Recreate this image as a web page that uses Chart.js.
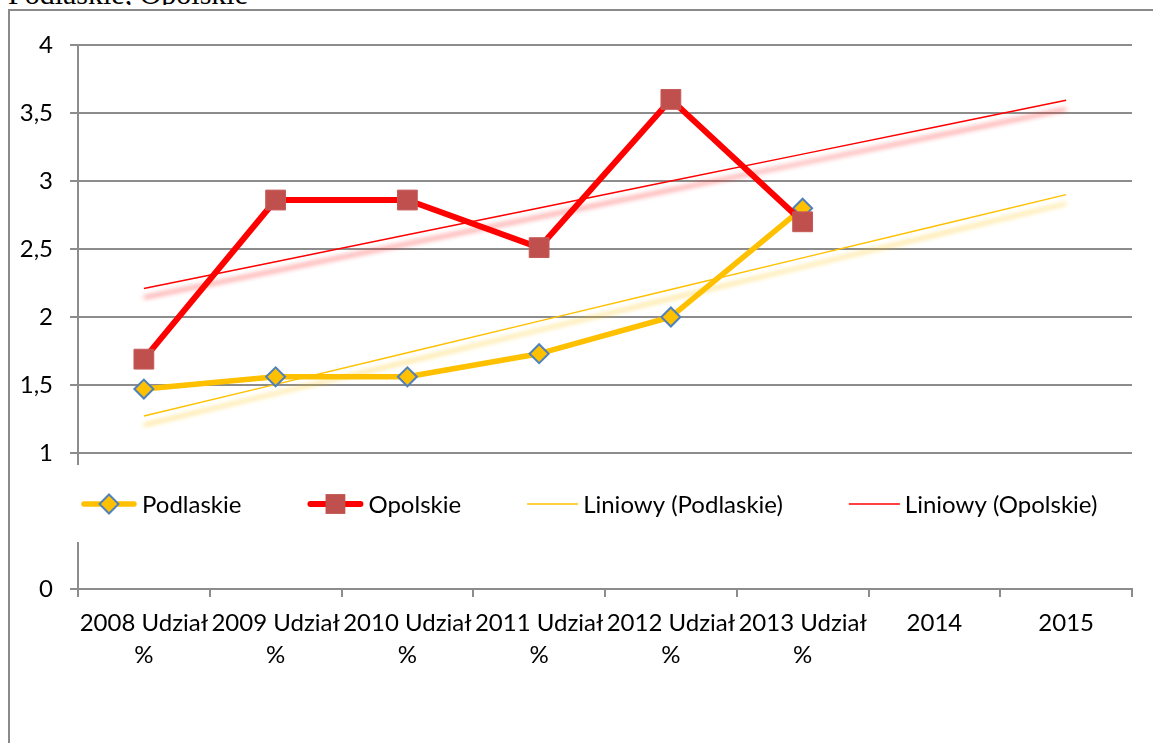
<!DOCTYPE html>
<html>
<head>
<meta charset="utf-8">
<script src="https://cdn.jsdelivr.net/npm/chart.js@4.4.1/dist/chart.umd.min.js"></script>
<style>
  html, body { margin: 0; padding: 0; background: #fff; width: 1153px; height: 743px; overflow: hidden; }
  #frame { position: absolute; left: 8px; top: 9px; width: 1300px; height: 900px;
           border-left: 2px solid #8a8a8a; border-top: 2px solid #8a8a8a; }
  #title { position: absolute; left: 0; top: 0; width: 420px; height: 5px; overflow: hidden; }
  #title span { position: absolute; left: 8px; top: -21px; font: 30px/30px "Liberation Serif", serif;
                white-space: nowrap; color: #000; }
  #upper { position: absolute; left: 0; top: 0; }
  #lower { position: absolute; left: 0; top: 530px; }
</style>
</head>
<body>
<div id="frame"></div>
<div id="title"><span>Podlaskie, Opolskie</span></div>
<canvas id="upper" width="1153" height="530"></canvas>
<canvas id="lower" width="1153" height="213"></canvas>
<script>
// Categories and series values
const categories = ['2008 Udział %', '2009 Udział %', '2010 Udział %', '2011 Udział %',
                    '2012 Udział %', '2013 Udział %', '2014', '2015'];
const podlaskie = [1.47, 1.56, 1.56, 1.73, 2.00, 2.80];
const opolskie  = [1.69, 2.86, 2.86, 2.51, 3.60, 2.70];
const upperTicks = [1, 1.5, 2, 2.5, 3, 3.5, 4];
const lowerTicks = [0];

const GRID = '#8c8c8c';
const FONT = { family: 'Lato', size: 24 };
Chart.defaults.font.family = 'Lato';
Chart.defaults.color = '#000';

// Least-squares linear trend over the observed points, projected across all categories
function linearTrend(values, n) {
  const m = values.length;
  const mx = (m + 1) / 2;
  const my = values.reduce((a, b) => a + b, 0) / m;
  let sxy = 0, sxx = 0;
  values.forEach((v, i) => { const dx = i + 1 - mx; sxy += dx * (v - my); sxx += dx * dx; });
  const b = sxy / sxx, a = my - b * mx;
  return Array.from({ length: n }, (_, i) => a + b * (i + 1));
}
const padTo = (v, n) => v.concat(Array(n - v.length).fill(null));
const wrapLabel = s => s.endsWith(' %') ? [s.slice(0, -2), '%'] : s;
const decimalComma = v => String(v).replace('.', ',');

// Soft drop shadow under the trend lines
const trendShadow = {
  id: 'trendShadow',
  beforeDatasetDraw(chart, args) {
    const ds = chart.data.datasets[args.index];
    if (!ds.shadowColor) return;
    const ctx = chart.ctx;
    ctx.save();
    ctx.shadowColor = ds.shadowColor;
    ctx.shadowBlur = 5;
    ctx.shadowOffsetX = 0;
    ctx.shadowOffsetY = 9;
  },
  afterDatasetDraw(chart, args) {
    if (chart.data.datasets[args.index].shadowColor) chart.ctx.restore();
  }
};

// Legend row between the two axis sections
const rowLegend = {
  id: 'rowLegend',
  afterDraw(chart) {
    const ctx = chart.ctx;
    const y = 504;
    let x = 81;
    ctx.save();
    ctx.font = '24px Lato';
    ctx.textBaseline = 'middle';
    chart.data.datasets.forEach(ds => {
      const thick = ds.borderWidth > 3;
      const w = thick ? 56 : 51;
      ctx.strokeStyle = ds.borderColor;
      ctx.lineWidth = ds.borderWidth;
      ctx.lineCap = thick ? 'round' : 'butt';
      ctx.beginPath();
      ctx.moveTo(x + (thick ? 3 : 0), y);
      ctx.lineTo(x + w - (thick ? 3 : 0), y);
      ctx.stroke();
      const cx = x + w / 2;
      if (ds.pointStyle === 'rectRot') {
        const r = ds.pointRadius;
        ctx.beginPath();
        ctx.moveTo(cx, y - r); ctx.lineTo(cx + r, y); ctx.lineTo(cx, y + r); ctx.lineTo(cx - r, y);
        ctx.closePath();
        ctx.fillStyle = ds.pointBackgroundColor; ctx.fill();
        ctx.lineWidth = ds.pointBorderWidth; ctx.strokeStyle = ds.pointBorderColor; ctx.stroke();
      } else if (ds.pointStyle === 'rect') {
        const s = ds.pointRadius * Math.SQRT1_2;
        ctx.fillStyle = ds.pointBackgroundColor;
        ctx.fillRect(cx - s, y - s, 2 * s, 2 * s);
      }
      ctx.fillStyle = '#000';
      ctx.fillText(ds.label, x + w + 5, y + 1);
      x += w + 5 + ctx.measureText(ds.label).width + 66;
    });
    ctx.restore();
  }
};

const n = categories.length;

new Chart(document.getElementById('upper'), {
  type: 'line',
  data: {
    labels: categories,
    datasets: [
      { label: 'Podlaskie', data: padTo(podlaskie, n), borderColor: '#FFC000', borderWidth: 5.5,
        borderJoinStyle: 'round', borderCapStyle: 'round',
        pointStyle: 'rectRot', pointRadius: 9.5, pointBackgroundColor: '#FFC000',
        pointBorderColor: '#4F81BD', pointBorderWidth: 2, order: 1 },
      { label: 'Opolskie', data: padTo(opolskie, n), borderColor: '#FF0000', borderWidth: 6,
        borderJoinStyle: 'round', borderCapStyle: 'round',
        pointStyle: 'rect', pointRadius: 14, pointBackgroundColor: '#C0504D',
        pointBorderColor: '#C55A57', pointBorderWidth: 1, order: 0 },
      { label: 'Liniowy (Podlaskie)', data: linearTrend(podlaskie, n), borderColor: '#FFC000',
        borderWidth: 1.5, pointRadius: 0, order: 3, shadowColor: 'rgba(255,192,0,1)' },
      { label: 'Liniowy (Opolskie)', data: linearTrend(opolskie, n), borderColor: '#FF0000',
        borderWidth: 1.5, pointRadius: 0, order: 2, shadowColor: 'rgba(255,30,30,1)' }
    ]
  },
  options: {
    responsive: false, animation: false, events: [],
    layout: { padding: { left: 0, right: 21, top: 45, bottom: 66 } },
    plugins: { legend: { display: false }, tooltip: { enabled: false } },
    scales: {
      x: { display: false, offset: true },
      y: {
        min: 0.919, max: 4,
        afterBuildTicks: s => { s.ticks = upperTicks.map(v => ({ value: v })); },
        afterFit: s => { s.width = 78; },
        ticks: { padding: 17, color: '#000', font: FONT, callback: decimalComma },
        grid: { color: GRID, lineWidth: 2, tickLength: 8 },
        border: { color: GRID, width: 2 }
      }
    }
  },
  plugins: [trendShadow, rowLegend]
});

new Chart(document.getElementById('lower'), {
  type: 'line',
  data: { labels: categories, datasets: [] },
  options: {
    responsive: false, animation: false, events: [],
    layout: { padding: { left: 0, right: 21, top: 13, bottom: 0 } },
    plugins: { legend: { display: false }, tooltip: { enabled: false } },
    scales: {
      x: {
        offset: true,
        afterFit: s => { s.height = 154; },
        ticks: { color: '#000', font: { family: 'Lato', size: 24, lineHeight: 1.34 }, padding: 10,
                 maxRotation: 0, autoSkip: false,
                 callback: (v, i) => wrapLabel(categories[i]) },
        grid: { offset: true, drawOnChartArea: false, color: GRID, lineWidth: 2, tickLength: 8 },
        border: { color: GRID, width: 2 }
      },
      y: {
        min: 0, max: 1,
        afterBuildTicks: s => { s.ticks = lowerTicks.map(v => ({ value: v })); },
        afterFit: s => { s.width = 78; s.paddingTop = 0; },
        ticks: { padding: 17, color: '#000', font: FONT, callback: decimalComma },
        grid: { drawOnChartArea: false, color: GRID, lineWidth: 2, tickLength: 8 },
        border: { color: GRID, width: 2 }
      }
    }
  }
});
</script>
</body>
</html>
